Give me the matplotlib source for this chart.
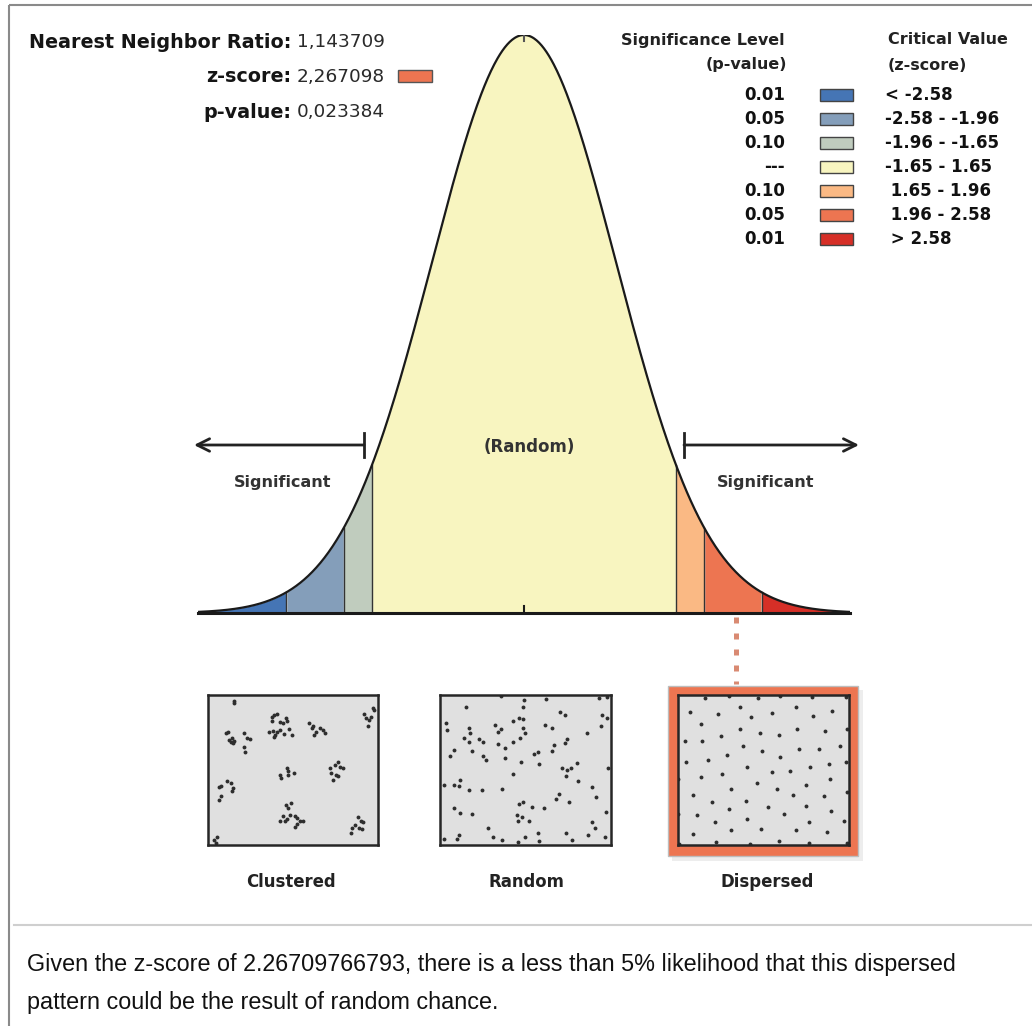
import numpy as np
import matplotlib
matplotlib.use('Agg')
import matplotlib.pyplot as plt
from matplotlib.patches import Rectangle

W, H = 1032, 1026

# ---- data ----
nn_ratio = '1,143709'
z_score = '2,267098'
p_value = '0,023384'

# band edges (z) from the critical-value table, curve drawn out to +-3.54
band_edges = [-3.54, -2.58, -1.96, -1.65, 1.65, 1.96, 2.58, 3.54]
band_colors = ['#4575B5', '#849EBA', '#C0CCBE', '#F8F5C0', '#FAB984', '#ED7551', '#D62F27']

legend_p = ['0.01', '0.05', '0.10', '---', '0.10', '0.05', '0.01']
legend_z = ['< -2.58', '-2.58 - -1.96', '-1.96 - -1.65', '-1.65 - 1.65',
            ' 1.65 - 1.96', ' 1.96 - 2.58', ' > 2.58']

panel_names = ['Clustered', 'Random', 'Dispersed']

# point patterns, in pixel units of a 3x crop of each box
clustered_pts = [
    (100, 38), (102, 44),
    (75, 135), (82, 130), (85, 155), (92, 160), (98, 165), (102, 158), (95, 150),
    (130, 135), (140, 150), (148, 152), (132, 175), (135, 190),
    (215, 85), (222, 80), (232, 78), (215, 98), (240, 100), (258, 88), (262, 98),
    (250, 105), (205, 130), (218, 128), (225, 140), (232, 132), (240, 125),
    (252, 138), (268, 122), (275, 140), (222, 145),
    (328, 105), (335, 120), (342, 140), (350, 130), (362, 118), (370, 125),
    (375, 135), (340, 112),
    (495, 78), (500, 90), (510, 95), (515, 85), (520, 60), (525, 65), (505, 112),
    (240, 260), (242, 270), (262, 240), (265, 248), (265, 262), (282, 255),
    (390, 240), (395, 255), (405, 230), (415, 222), (420, 235), (430, 240),
    (410, 262), (400, 275), (415, 265),
    (55, 298), (62, 295), (78, 278), (92, 285), (98, 300), (95, 310), (60, 325), (55, 335),
    (258, 350), (265, 360), (272, 345), (270, 380), (250, 385), (240, 398), (255, 400),
    (262, 392), (285, 385), (292, 390), (300, 400), (290, 408), (285, 418), (308, 398),
    (475, 388), (485, 400), (492, 402), (465, 410), (458, 420), (455, 435), (478, 420), (488, 422),
    (40, 455), (45, 465), (48, 448),
]
random_pts = [
    (100, 55), (205, 22), (275, 35), (272, 55), (342, 32), (500, 30), (525, 25),
    (40, 103), (42, 125), (108, 120), (112, 135), (95, 148), (108, 160), (188, 110),
    (195, 130), (205, 122), (240, 98), (258, 88), (270, 92), (270, 120), (278, 135),
    (262, 150), (242, 162), (195, 168), (218, 180), (140, 152), (152, 162), (118, 188),
    (65, 185), (52, 203), (150, 203), (160, 215), (218, 210), (265, 222), (305, 197),
    (318, 190), (320, 227), (338, 110), (360, 120), (382, 72), (398, 80), (365, 170),
    (360, 187), (398, 165), (403, 152), (465, 135), (505, 113), (510, 80), (525, 88),
    (240, 258), (390, 240), (405, 245), (415, 238), (435, 224), (402, 265), (438, 280),
    (528, 238), (35, 292), (65, 292), (80, 295), (82, 275), (108, 305), (148, 305),
    (208, 303), (478, 296), (490, 328), (380, 318), (372, 333), (410, 342), (258, 348),
    (272, 342), (300, 358), (335, 360), (65, 360), (82, 375), (118, 378), (252, 382),
    (268, 388), (255, 398), (290, 400), (520, 372), (480, 403), (488, 420), (165, 420),
    (35, 452), (72, 452), (80, 440), (182, 448), (208, 456), (255, 462), (278, 448),
    (318, 435), (320, 458), (402, 435), (418, 456), (468, 442), (518, 448),
]
dispersed_pts = [
    (102, 28), (175, 22), (262, 28), (330, 22), (425, 25), (528, 25),
    (58, 72), (142, 78), (208, 55), (240, 87), (305, 75), (378, 56), (428, 84), (485, 67),
    (92, 106), (208, 122), (268, 133), (325, 140), (380, 122), (465, 129), (530, 122),
    (42, 157), (95, 158), (152, 142), (218, 173), (273, 187), (385, 181), (445, 182), (510, 172),
    (45, 221), (112, 215), (168, 199), (330, 207), (418, 236), (475, 228), (528, 222),
    (90, 268), (155, 258), (228, 235), (305, 252), (360, 248), (478, 272),
    (22, 272), (68, 321), (180, 302), (258, 286), (320, 303), (408, 290), (462, 325), (530, 312),
    (125, 342), (225, 340), (292, 358), (368, 320), (408, 353), (482, 368),
    (78, 381), (175, 364), (342, 378), (22, 378),
    (133, 403), (230, 393), (415, 402), (520, 398),
    (68, 438), (182, 427), (270, 423), (378, 426), (470, 432),
    (25, 468), (135, 463), (238, 468), (325, 460), (415, 465), (530, 465),
]

summary_lines = ['Given the z-score of 2.26709766793, there is a less than 5% likelihood that this dispersed',
                 'pattern could be the result of random chance.']


def px_axes(fig, x0, y0, x1, y1, **kw):
    return fig.add_axes([x0 / W, 1 - y1 / H, (x1 - x0) / W, (y1 - y0) / H], **kw)


def pixel_layer(fig, z):
    ax = fig.add_axes([0, 0, 1, 1])
    ax.set_xlim(0, W)
    ax.set_ylim(H, 0)
    ax.axis('off')
    ax.set_zorder(z)
    return ax


fig = plt.figure(figsize=(W / 100, H / 100), dpi=100)
fig.patch.set_facecolor('white')

# back layer: frame, separators, highlight box
axb = pixel_layer(fig, 0)
axb.plot([9, W], [5, 5], color='#8a8a8a', lw=1.5, solid_capstyle='butt')
axb.plot([9, 9], [5, H], color='#8a8a8a', lw=1.5, solid_capstyle='butt')
axb.plot([14, W], [925, 925], color='#cfcfcf', lw=1.5)
axb.add_patch(Rectangle((672, 690), 191, 171, facecolor='#000000', alpha=0.07, lw=0))
axb.add_patch(Rectangle((668, 686), 190, 170, facecolor=band_colors[5], edgecolor='#bdbdbd', lw=1))
axb.plot([736, 736], [617, 684], color='#d98a72', lw=3.6, ls=(0, (1.2, 2)), solid_capstyle='butt')

# normal curve
axc = px_axes(fig, 198, 35, 850, 613)
axc.set_zorder(1)
axc.patch.set_alpha(0)
axc.set_xlim(band_edges[0], band_edges[-1])
axc.set_ylim(0, 1)
axc.axis('off')
z = np.linspace(band_edges[0], band_edges[-1], 800)
pdf = np.exp(-z ** 2 / 2)
for lo, hi, col in zip(band_edges[:-1], band_edges[1:], band_colors):
    m = (z >= lo) & (z <= hi)
    axc.fill_between(z[m], 0, pdf[m], color=col, lw=0)
for e in band_edges[1:-1]:
    axc.plot([e, e], [0, np.exp(-e ** 2 / 2)], color='#333333', lw=1)
axc.plot(z, pdf, color='#1a1a1a', lw=1.6)
axc.plot([z[0], z[-1]], [0, 0], color='#1a1a1a', lw=2.2, clip_on=False)
axc.plot([0, 0], [0, 0.012], color='#1a1a1a', lw=1.5)
axc.plot([0, 0], [0.99, 1.0], color='#555', lw=1.5)

# pattern panels
boxes = [(208, 695, 378, 845), (440, 695, 611, 845), (678, 695, 849, 845)]
patterns = [clustered_pts, random_pts, dispersed_pts]
label_x = [291, 526, 767]
for (x0, y0, x1, y1), pts in zip(boxes, patterns):
    ax = px_axes(fig, x0, y0, x1, y1)
    ax.set_zorder(2)
    ax.set_facecolor('#e0e0e0')
    pts = np.array(pts, dtype=float)
    ax.plot(pts[:, 0], pts[:, 1], 'o', ms=2.8, color='#2e2e2e', mec='none')
    ax.set_xlim(22, 536)
    ax.set_ylim(471, 20)
    ax.set_xticks([])
    ax.set_yticks([])
    for sp in ax.spines.values():
        sp.set_color('#262626')
        sp.set_linewidth(1.8)

# top layer: text, swatches, arrows
ax0 = pixel_layer(fig, 3)

hdr = [('Nearest Neighbor Ratio:', nn_ratio, 42), ('z-score:', z_score, 77), ('p-value:', p_value, 112)]
for lab, val, y in hdr:
    ax0.text(291, y, lab, ha='right', va='center', fontsize=13.8, fontweight='bold', color='#151515')
    ax0.text(297, y, val, ha='left', va='center', fontsize=13.3, color='#2a2a2a')
ax0.add_patch(Rectangle((398, 70), 34, 12, facecolor=band_colors[5], edgecolor='#555555', lw=1))

ax0.text(785, 40, 'Significance Level', ha='right', va='center', fontsize=11.5, fontweight='bold', color='#222')
ax0.text(787, 65, '(p-value)', ha='right', va='center', fontsize=11.5, fontweight='bold', color='#222')
ax0.text(888, 40, 'Critical Value', ha='left', va='center', fontsize=11.5, fontweight='bold', color='#222')
ax0.text(888, 66, '(z-score)', ha='left', va='center', fontsize=11.5, fontweight='bold', color='#222')
for i, (pv, zr, col) in enumerate(zip(legend_p, legend_z, band_colors)):
    y = 95 + i * 24
    ax0.text(785, y, pv, ha='right', va='center', fontsize=12, fontweight='bold', color='#111')
    ax0.add_patch(Rectangle((820, y - 6), 33, 12, facecolor=col, edgecolor='#444444', lw=1))
    ax0.text(885, y, zr, ha='left', va='center', fontsize=12, fontweight='bold', color='#111')

for x_bar, x_tip in [(364, 194), (684, 859)]:
    ax0.annotate('', xy=(x_tip, 445), xytext=(x_bar, 445),
                 arrowprops=dict(arrowstyle='->,head_length=0.9,head_width=0.45', lw=2,
                                 color='#222', shrinkA=0, shrinkB=0))
    ax0.plot([x_bar, x_bar], [433, 457], color='#222', lw=2)
ax0.text(529, 447, '(Random)', ha='center', va='center', fontsize=12, fontweight='bold', color='#333')
ax0.text(283, 483, 'Significant', ha='center', va='center', fontsize=11.5, fontweight='bold', color='#333')
ax0.text(766, 483, 'Significant', ha='center', va='center', fontsize=11.5, fontweight='bold', color='#333')

for name, lx in zip(panel_names, label_x):
    ax0.text(lx, 882, name, ha='center', va='center', fontsize=11.9, fontweight='bold', color='#222')

ax0.text(27, 965, summary_lines[0], ha='left', va='center', fontsize=16.8,
         family=['Liberation Sans', 'DejaVu Sans'], color='#111')
ax0.text(27, 1002, summary_lines[1], ha='left', va='center', fontsize=16.8,
         family=['Liberation Sans', 'DejaVu Sans'], color='#111')

fig.savefig('out.png', dpi=100)
